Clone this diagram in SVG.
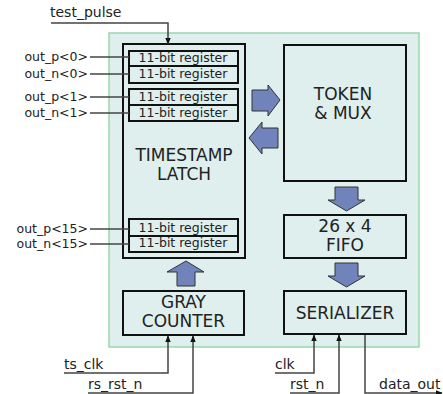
<svg xmlns="http://www.w3.org/2000/svg" width="443" height="394" viewBox="0 0 443 394">
<style>
text{font-family:"DejaVu Sans",Verdana,sans-serif;fill:#222}
.big{font-size:17px;text-anchor:middle}
.reg{font-size:12.5px;text-anchor:middle}
.lbl{font-size:12.5px;text-anchor:end}
.sig{font-size:14px}
.box{fill:#dfefed;stroke:#111;stroke-width:2}
.wire{fill:none;stroke:#444;stroke-width:1.5}
.blk{fill:#7083ba;stroke:#333;stroke-width:1}
</style>
<defs>
<marker id="ah" viewBox="0 0 10 10" refX="9" refY="5" markerWidth="7" markerHeight="7" markerUnits="userSpaceOnUse" orient="auto">
<path d="M0,1 L10,5 L0,9 z" fill="#111"/>
</marker>
</defs>
<rect id="background" x="109" y="33" width="310" height="314" fill="#dfefed" stroke="#9ad6ae" stroke-width="1.5"/>
<g id="timestamp_latch">
<rect class="box" x="123" y="44" width="122" height="214"/>
<text class="big" x="184" y="161">TIMESTAMP</text>
<text class="big" x="184" y="180">LATCH</text>
</g>
<g id="reg_p0"><rect class="box" x="129" y="51" width="109" height="15"/><text class="reg" x="183" y="62">11-bit register</text></g>
<g id="reg_n0"><rect class="box" x="129" y="66" width="109" height="17"/><text class="reg" x="183" y="78">11-bit register</text></g>
<g id="reg_p1"><rect class="box" x="129" y="89" width="109" height="16"/><text class="reg" x="183" y="101">11-bit register</text></g>
<g id="reg_n1"><rect class="box" x="129" y="105" width="109" height="16"/><text class="reg" x="183" y="117">11-bit register</text></g>
<g id="reg_p15"><rect class="box" x="129" y="219" width="109" height="17"/><text class="reg" x="183" y="232">11-bit register</text></g>
<g id="reg_n15"><rect class="box" x="129" y="236" width="109" height="16"/><text class="reg" x="183" y="247">11-bit register</text></g>
<g id="token_mux">
<rect class="box" x="284" y="45" width="122" height="136"/>
<text class="big" x="343" y="100">TOKEN</text>
<text class="big" x="343" y="119">&amp; MUX</text>
</g>
<g id="fifo">
<rect class="box" x="284" y="215" width="122" height="43"/>
<text class="big" x="345" y="232">26 x 4</text>
<text class="big" x="345" y="251">FIFO</text>
</g>
<g id="serializer">
<rect class="box" x="284" y="291" width="122" height="43"/>
<text class="big" x="345" y="319">SERIALIZER</text>
</g>
<g id="gray_counter">
<rect class="box" x="123" y="291" width="121" height="44"/>
<text class="big" x="183.5" y="308">GRAY</text>
<text class="big" x="183.5" y="327">COUNTER</text>
</g>
<g id="block_arrows">
<path class="blk" d="M252,90 H268 V85 L280,100 L268,116 V111 H252 Z"/>
<path class="blk" d="M278,128 H262 V122 L249,138 L262,154 V148 H278 Z"/>
<path class="blk" d="M335,187 H358 V200 H365 L346.5,211 L328,200 H335 Z"/>
<path class="blk" d="M335,263 H358 V276 H365 L346.5,287 L328,276 H335 Z"/>
<path class="blk" d="M177,286 V272 H167 L186,261 L204,272 H195 V286 Z"/>
</g>
<g id="labels">
<text class="sig" x="50" y="17">test_pulse</text>
<text class="lbl" x="88" y="61">out_p&lt;0&gt;</text>
<text class="lbl" x="88" y="78">out_n&lt;0&gt;</text>
<text class="lbl" x="88" y="101">out_p&lt;1&gt;</text>
<text class="lbl" x="88" y="117">out_n&lt;1&gt;</text>
<text class="lbl" x="88" y="233">out_p&lt;15&gt;</text>
<text class="lbl" x="88" y="248">out_n&lt;15&gt;</text>
<text class="sig" x="64" y="369">ts_clk</text>
<text class="sig" x="88" y="389">rs_rst_n</text>
<text class="sig" x="275" y="369">clk</text>
<text class="sig" x="290" y="389">rst_n</text>
<text class="sig" x="379" y="389">data_out</text>
</g>
<g id="connectors">
<path class="wire" d="M51,23 H168 V44" marker-end="url(#ah)"/>
<path class="wire" d="M90,57 H129"/>
<path class="wire" d="M90,74 H129"/>
<path class="wire" d="M90,97 H129"/>
<path class="wire" d="M90,113 H129"/>
<path class="wire" d="M90,229 H129"/>
<path class="wire" d="M90,244 H129"/>
<path class="wire" d="M64,373 H168 V336" marker-end="url(#ah)"/>
<path class="wire" d="M88,393 H193 V336" marker-end="url(#ah)"/>
<path class="wire" d="M275,373 H314 V335" marker-end="url(#ah)"/>
<path class="wire" d="M290,393 H339 V335" marker-end="url(#ah)"/>
<path class="wire" d="M365,335 V393 H442" marker-end="url(#ah)"/>
</g>
</svg>
